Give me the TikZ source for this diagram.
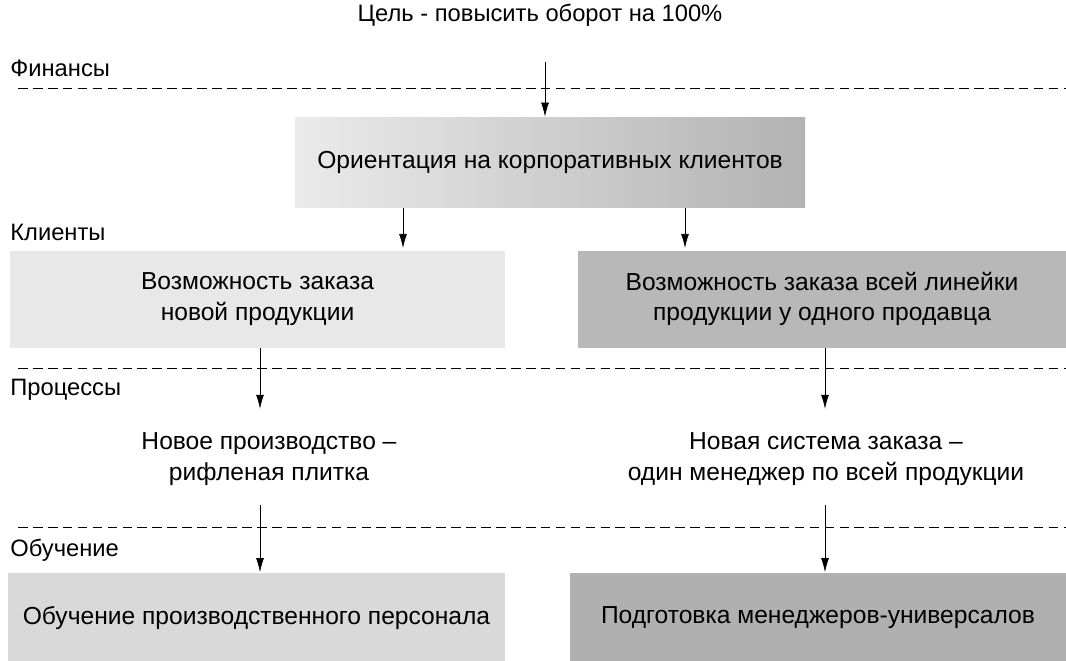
\documentclass[tikz,border=0pt]{standalone}
\usepackage{fontspec}
\setmainfont{Liberation Sans}
\usepackage{tikz}
\usetikzlibrary{positioning, arrows.meta}

\begin{document}
\begin{tikzpicture}[
  font=\fontsize{14}{17.5}\selectfont,
  zone/.style={minimum height=1.94cm, align=center, inner sep=0pt},
  zonelight/.style={zone, fill=black!9},
  zonedark/.style={zone, fill=black!28},
  zoneshade/.style={zone, left color=black!8, right color=black!30},
  plain/.style={align=center, inner sep=0pt},
  lane/.style={anchor=west, inner sep=0pt, font=\fontsize{13.5}{16}\selectfont},
  arrow/.style={-{Latex[length=8pt, width=4.5pt]}, thin},
  sep/.style={thin, dash pattern=on 5.5pt off 3pt},
]
  \useasboundingbox (0,0) rectangle (21.32,-13.22);

  % Goal
  \node[plain, font=\fontsize{13.5}{16}\selectfont] (goal) at (10.8,-0.3)
    {Цель - повысить оборот на 100\%};

  % Lanes and separators
  \node[lane] (fin) at (0.2,-1.36) {Финансы};
  \node[lane] (cli) at (0.2,-4.64) {Клиенты};
  \node[lane] (proc) at (0.2,-7.8) {Процессы};
  \node[lane] (learn) at (0.2,-11.0) {Обучение};
  \draw[sep] (0.36,-1.76) -- (21.32,-1.76);
  \draw[sep] (0.36,-7.36) -- (21.32,-7.36);
  \draw[sep] (0.36,-10.54) -- (21.32,-10.54);

  % Finance
  \node[zoneshade, minimum width=10.2cm, minimum height=1.8cm] (corp) at (11.0,-3.24)
    {Ориентация на корпоративных клиентов};

  % Clients
  \node[zonelight, minimum width=9.9cm] (neworder) at (5.15,-5.98)
    {Возможность заказа\\новой продукции};
  \node[zonedark, minimum width=9.76cm] (oneseller) at (16.44,-5.98)
    {Возможность заказа всей линейки\\продукции у одного продавца};

  % Processes
  \node[plain] (newprod) at (5.38,-9.18) {Новое производство --\\рифленая плитка};
  \node[plain] (newsys) at (16.52,-9.18) {Новая система заказа --\\один менеджер по всей продукции};

  % Learning
  \node[zonelight, fill=black!15, minimum width=9.94cm, minimum height=1.82cm] (staff) at (5.13,-12.36)
    {Обучение производственного персонала};
  \node[zonedark, fill=black!31, minimum width=9.92cm, minimum height=1.82cm] (mgr) at (16.36,-12.36)
    {Подготовка менеджеров-универсалов};

  % Arrows
  \coordinate (gstart) at (10.9,-1.24);
  \coordinate (lcol) at (5.2,0);
  \coordinate (rcol) at (16.5,0);
  \draw[arrow] (gstart) -- (gstart |- corp.north);
  \draw[arrow] (8.06,-4.16) -- (8.06,-4.96);
  \draw[arrow] (13.7,-4.16) -- (13.7,-4.96);
  \draw[arrow] (neworder.south -| lcol) -- ++(0,-1.22);
  \draw[arrow] (oneseller.south -| rcol) -- ++(0,-1.22);
  \draw[arrow] (lcol |- 0,-10.1) -- (staff.north -| lcol);
  \draw[arrow] (rcol |- 0,-10.1) -- (mgr.north -| rcol);
\end{tikzpicture}
\end{document}
